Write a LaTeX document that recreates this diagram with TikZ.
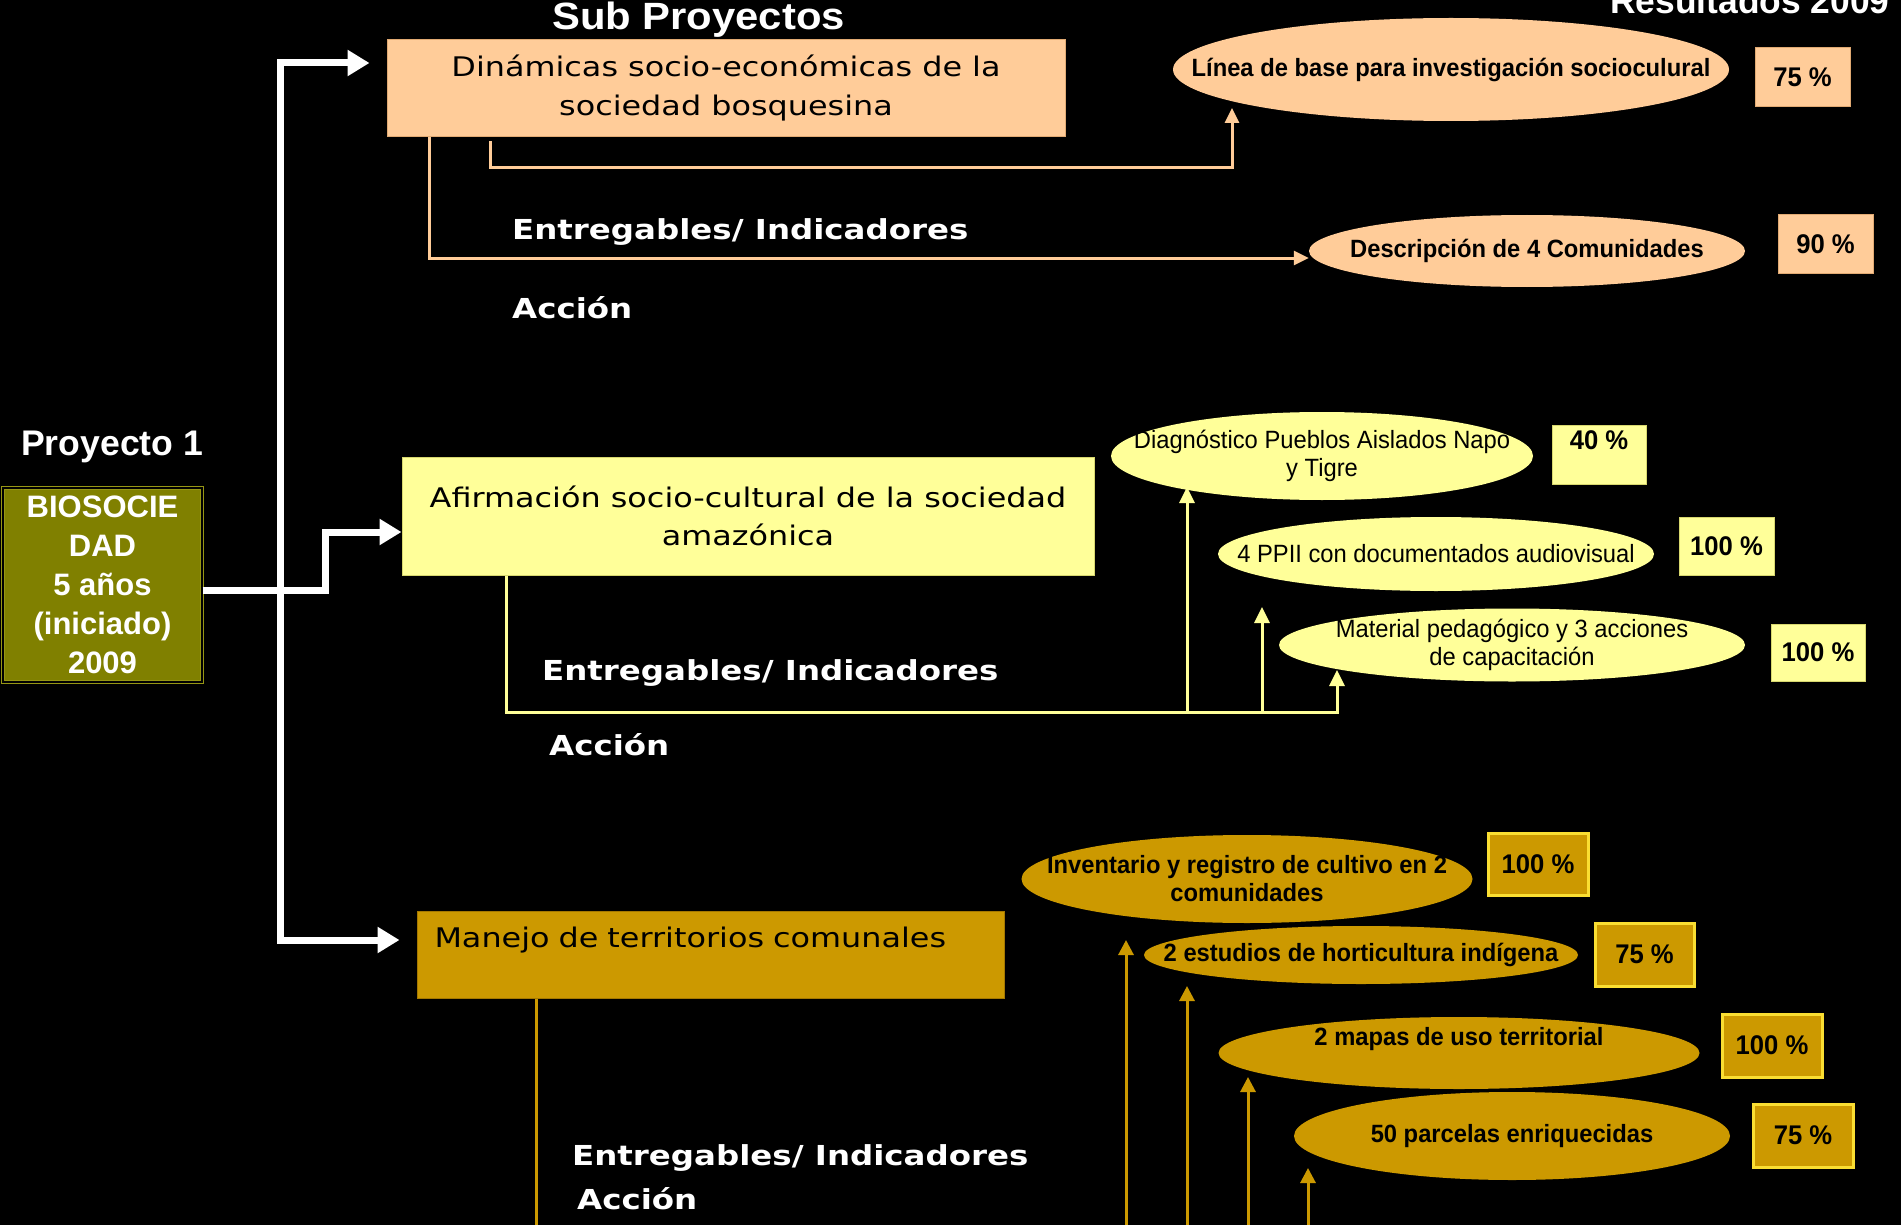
\documentclass[tikz,border=0pt]{standalone}
\usepackage{fontspec}
\newfontfamily\aw{Liberation Sans}
\newfontfamily\awx{Liberation Sans}[FakeStretch=1.1]
\newfontfamily\an{Liberation Sans}[FakeStretch=0.95]
\newfontfamily\vf{DejaVu Sans}[FakeStretch=1.18]
\usetikzlibrary{arrows.meta,calc,shapes.geometric}
\definecolor{peach}{RGB}{255,204,153}
\definecolor{peachd}{RGB}{225,170,115}
\definecolor{lyel}{RGB}{255,255,153}
\definecolor{lyeld}{RGB}{215,215,110}
\definecolor{gold}{RGB}{204,153,0}
\definecolor{goldd}{RGB}{165,120,0}
\definecolor{goldedge}{RGB}{250,222,50}
\definecolor{olivef}{RGB}{128,128,0}
\definecolor{olivee}{RGB}{150,150,20}
\tikzset{
  sub/.style={rectangle, inner sep=0pt, align=center, text=black,
    font=\vf\fontsize{27}{39}\selectfont},
  ell/.style={ellipse, inner sep=-300pt, align=center, text=black,
    font=\an\fontsize{25}{28}\selectfont},
  ellb/.style={ell, font=\an\bfseries\fontsize{25}{28}\selectfont},
  pct/.style={rectangle, inner sep=0pt, text=black,
    font=\an\bfseries\fontsize{27}{30}\selectfont},
  ppct/.style={pct, fill=peach, draw=peachd, line width=1pt},
  ypct/.style={pct, fill=lyel, draw=lyeld, line width=1pt},
  gpct/.style={pct, fill=gold, draw=goldedge, line width=3pt},
  lbl/.style={anchor=base west, inner sep=0pt, text=white,
    font=\vf\bfseries\fontsize{27.5}{30}\selectfont},
  ttl/.style={anchor=base west, inner sep=0pt, text=white,
    font=\awx\bfseries\fontsize{38}{42}\selectfont},
  warrow/.style={draw=white, line width=7pt, -{Triangle[length=22pt,width=25pt]}},
  parrow/.style={draw=peach, line width=3pt, -{Triangle[length=15pt,width=14pt]}},
  yarrow/.style={draw=lyel, line width=3pt, -{Triangle[length=16pt,width=15pt]}},
  garrow/.style={draw=gold, line width=3pt, -{Triangle[length=15pt,width=15pt]}},
  gline/.style={draw=gold, line width=2.5pt}
}
\begin{document}
\begin{tikzpicture}[x=1pt,y=-1pt]
\useasboundingbox (0,0) rectangle (1901,1225);
\fill[black] (0,0) rectangle (1901,1225);
\clip (0,0) rectangle (1901,1225);

% titles
\node[ttl] (subp) at (552,30) {Sub Proyectos};
\node[ttl, font=\aw\bfseries\fontsize{35.4}{40}\selectfont] (res) at (1610,14) {Resultados 2009};
\node[ttl, font=\aw\bfseries\fontsize{35.6}{40}\selectfont] (proy) at (21,455) {Proyecto 1};

% project box
\node[rectangle, fill=olivef, draw=olivee, double=black, double distance=1.5pt,
  line width=1.2pt, minimum width=199, minimum height=194, inner sep=0pt,
  text=white, align=center, font=\aw\bfseries\fontsize{31}{39}\selectfont]
  (bio) at (102.5,585) {BIOSOCIE\\DAD\\5 años\\(iniciado)\\2009};

% sub-project boxes
\node[sub, fill=peach, draw=peachd, line width=1pt, minimum width=678, minimum height=97]
  (box1) at (726,88.5) {Dinámicas socio-económicas de la\\sociedad bosquesina};
\node[sub, fill=lyel, draw=lyeld, line width=1pt, minimum width=692, minimum height=118,
  font=\vf\fontsize{27}{38}\selectfont]
  (box2) at (748,516) {Afirmación socio-cultural de la sociedad\\amazónica};
\node[sub, fill=gold, draw=goldd, line width=1pt, minimum width=587, minimum height=87,
  text width=552, align=left, text height=20pt, text depth=35pt]
  (box3) at (710.5,954.5) {Manejo de territorios comunales};

% labels
\node[lbl] (ent1) at (512,240) {Entregables/ Indicadores};
\node[lbl] (acc1) at (512,318) {Acción};
\node[lbl] (ent2) at (542,680) {Entregables/ Indicadores};
\node[lbl] (acc2) at (549,755) {Acción};
\node[lbl] (ent3) at (572,1165) {Entregables/ Indicadores};
\node[lbl] (acc3) at (577,1209) {Acción};

% result ellipses
\node[ellb, fill=peach, minimum width=556, minimum height=103] (e1) at (1451,69.5)
  {Línea de base para investigación socioculural};
\node[ellb, fill=peach, minimum width=436, minimum height=72] (e2) at (1527,251)
  {Descripción de 4 Comunidades};
\node[ell, fill=lyel, minimum width=422, minimum height=88] (e3) at (1322,456)
  {Diagnóstico Pueblos Aislados Napo\\y Tigre};
\node[ell, fill=lyel, minimum width=436, minimum height=74] (e4) at (1436,554)
  {4 PPII con documentados audiovisual};
\node[ell, fill=lyel, minimum width=466, minimum height=73] (e5) at (1512,645)
  {Material pedagógico y 3 acciones\\de capacitación};
\node[ellb, fill=gold, minimum width=451, minimum height=88] (g1) at (1247,879)
  {Inventario y registro de cultivo en 2\\comunidades};
\node[ellb, fill=gold, minimum width=434, minimum height=58] (g2) at (1361,955)
  {2 estudios de horticultura indígena};
\node[ellb, fill=gold, minimum width=481, minimum height=72, text height=17pt, text depth=32pt]
  (g3) at (1459,1053) {2 mapas de uso territorial};
\node[ellb, fill=gold, minimum width=436, minimum height=88] (g4) at (1512,1136)
  {50 parcelas enriquecidas};

% percentages
\node[ppct, minimum width=95, minimum height=59] (p1) at (1802.5,77.5) {75 \%};
\node[ppct, minimum width=95, minimum height=58] (p2) at (1825.5,244) {90 \%};
\node[ypct, minimum width=94, minimum height=59, text height=19pt, text depth=29pt]
  (p3) at (1599,454.5) {40 \%};
\node[ypct, minimum width=95, minimum height=58] (p4) at (1726.5,546) {100 \%};
\node[ypct, minimum width=94, minimum height=57] (p5) at (1818,652.5) {100 \%};
\node[gpct, minimum width=100, minimum height=62] (q1) at (1538,864) {100 \%};
\node[gpct, minimum width=99, minimum height=63] (q2) at (1644.5,954.5) {75 \%};
\node[gpct, minimum width=100, minimum height=63] (q3) at (1772,1045.5) {100 \%};
\node[gpct, minimum width=100, minimum height=63] (q4) at (1803,1135.5) {75 \%};

% white connectors
\coordinate (j) at (280,590);
\draw[warrow] ($(bio.east)+(0,5)$) -| ($(box2.west)+(-76,16)$) -- ($(box2.west)+(0,16)$);
\draw[warrow, shorten >=17pt] (j) |- ($(box1.west)+(0,-25.5)$);
\draw[warrow, shorten >=17pt] (j) |- ($(box3.west)+(0,-14.5)$);

% peach connectors
\draw[parrow] ($(box1.south west)+(104,4)$) |- ($(e1.center)+(-219,98.5)$) -- ($(e1.center)+(-219,38.5)$);
\draw[parrow] ($(box1.south west)+(43,0)$) |- ($(e2.west)+(0,7)$);

% yellow connectors
\draw[yarrow] ($(box2.south west)+(105,0)$) |- ($(e5.center)+(-175,67)$) -- ($(e5.center)+(-175,25)$);
\draw[yarrow] ($(e3.center)+(-135,256)$) -- ($(e3.center)+(-135,31)$);
\draw[yarrow] ($(e4.center)+(-174,158)$) -- ($(e4.center)+(-174,53)$);

% gold connectors
\draw[gline] ($(box3.south west)+(120,0)$) -- ++(0,260);
\draw[garrow] ($(g1.center)+(-121,380)$) -- ($(g1.center)+(-121,61)$);
\draw[garrow] ($(g2.center)+(-174,304)$) -- ($(g2.center)+(-174,31)$);
\draw[garrow] ($(g3.center)+(-211,206)$) -- ($(g3.center)+(-211,24)$);
\draw[garrow] ($(g4.center)+(-204,123)$) -- ($(g4.center)+(-204,32)$);
\end{tikzpicture}
\end{document}
